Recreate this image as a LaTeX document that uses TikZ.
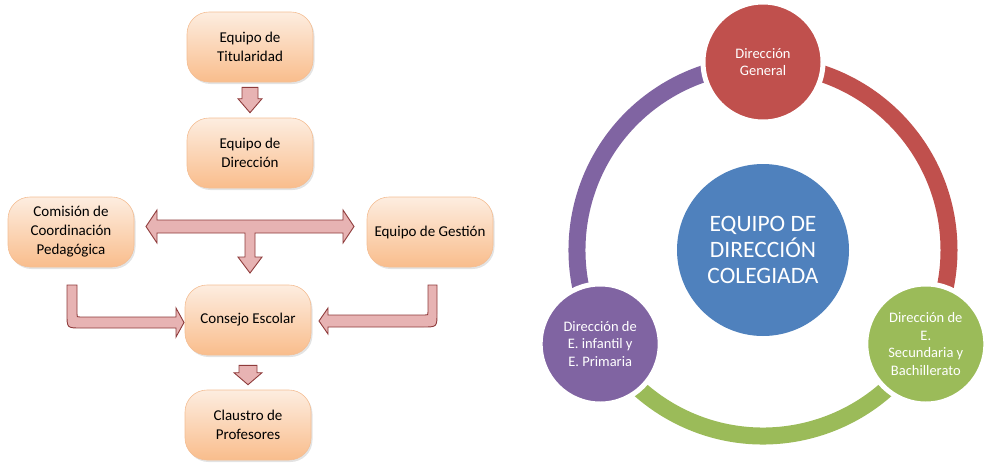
\documentclass[tikz,border=0pt]{standalone}
\usepackage{fontspec}
\setmainfont{Carlito}
\usetikzlibrary{shadows,calc}
\definecolor{boxtop}{HTML}{FDEDE0}
\definecolor{boxbot}{HTML}{F9BD8C}
\definecolor{boxline}{HTML}{F4BE94}
\definecolor{arrfill}{HTML}{E7B3B3}
\definecolor{arrline}{HTML}{8E3B3B}
\definecolor{cred}{HTML}{C0504D}
\definecolor{cgreen}{HTML}{9BBB59}
\definecolor{cpurple}{HTML}{8064A2}
\definecolor{cblue}{HTML}{4F81BD}
\tikzset{
  orgbox/.style={rectangle, rounded corners=22pt, minimum width=126pt, minimum height=70pt,
    inner sep=2pt, draw=boxline, line width=0.6pt, top color=boxtop, bottom color=boxbot,
    align=center, text=black, font=\fontsize{15}{19}\selectfont,
    drop shadow={shadow xshift=1.5pt, shadow yshift=-2pt, opacity=0.22}},
  blockarr/.style={fill=arrfill, draw=arrline, line width=0.9pt, line join=miter},
  ring/.style={line width=17pt},
  smallc/.style={circle, minimum size=120pt, inner sep=0pt, draw=white, line width=5pt,
    text=white, align=center, font=\fontsize{14.5}{17.5}\selectfont},
}
\begin{document}
\begin{tikzpicture}[x=1pt,y=1pt]
\useasboundingbox (0,0) rectangle (988,-466);
% ---------- left organisation chart ----------
\node[orgbox] (tit)  at (250,-47)  {Equipo de\\Titularidad};
\node[orgbox] (dir)  at (250,-153) {Equipo de\\Dirección};
\node[orgbox] (com)  at (71,-232)  {Comisión de\\Coordinación\\Pedagógica};
\node[orgbox] (ges)  at (430,-232) {Equipo de Gestión};
\node[orgbox] (cons) at (248,-320) {Consejo Escolar};
\node[orgbox] (clau) at (248,-425) {Claustro de\\Profesores};

% Titularidad -> Direccion
\draw[blockarr] ($(tit.south)+(-8,-5)$) -- ($(tit.south)+(8,-5)$) -- ($(dir.north)+(8,19)$)
  -- ($(dir.north)+(12,19)$) -- ($(dir.north)+(0,5)$) -- ($(dir.north)+(-12,19)$)
  -- ($(dir.north)+(-8,19)$) -- cycle;
% Consejo -> Claustro
\draw[blockarr] ($(cons.south)+(-9,-10)$) -- ($(cons.south)+(9,-10)$) -- ($(clau.north)+(9,17)$)
  -- ($(clau.north)+(14,17)$) -- ($(clau.north)+(0,5)$) -- ($(clau.north)+(-14,17)$)
  -- ($(clau.north)+(-9,17)$) -- cycle;
% T-shaped double arrow (Direccion -> Comision, Gestion, Consejo)
\draw[blockarr] (146,-226.5) -- (157,-210) -- (157,-220) -- (343,-220) -- (343,-210)
  -- (354,-226.5) -- (343,-243) -- (343,-233) -- (255,-233) -- (255,-257) -- (262,-257)
  -- (250,-273) -- (238,-257) -- (245,-257) -- (245,-233) -- (157,-233) -- (157,-243) -- cycle;
% Comision -> Consejo
\draw[blockarr] (67,-285) -- (77,-285) -- (77,-314) .. controls (77,-317) .. (80,-317)
  -- (176,-317) -- (176,-308) -- (184,-322.5) -- (176,-337) -- (176,-328)
  -- (81,-328) .. controls (67,-328) .. (67,-314) -- cycle;
% Gestion -> Consejo
\draw[blockarr] (437,-285) -- (428,-285) -- (428,-312) .. controls (428,-315) .. (425,-315)
  -- (328,-315) -- (328,-308) -- (319,-321) -- (328,-334) -- (328,-327)
  -- (423,-327) .. controls (437,-327) .. (437,-313) -- cycle;

% ---------- right cycle ----------
\coordinate (rc) at (763,-250);
\draw[ring, cred]    ($(rc)+(90:186)$)  arc[start angle=90,  end angle=-30, radius=186];
\draw[ring, cgreen]  ($(rc)+(-30:186)$) arc[start angle=-30, end angle=-150, radius=186];
\draw[ring, cpurple] ($(rc)+(210:186)$) arc[start angle=210, end angle=90,  radius=186];

\node[circle, minimum size=172pt, inner sep=0pt, fill=cblue, text=white, align=center,
  font=\fontsize{23.5}{26}\selectfont] (center) at (rc) {EQUIPO DE\\DIRECCIÓN\\COLEGIADA};
\node[smallc, fill=cred]    (dg) at ($(rc)+(90:188)$)  {Dirección\\General};
\node[smallc, fill=cgreen]  (ds) at ($(rc)+(-30:188)$) {Dirección de\\E.\\Secundaria y\\Bachillerato};
\node[smallc, fill=cpurple] (dp) at ($(rc)+(210:188)$) {Dirección de\\E. infantil y\\E. Primaria};
\end{tikzpicture}
\end{document}
